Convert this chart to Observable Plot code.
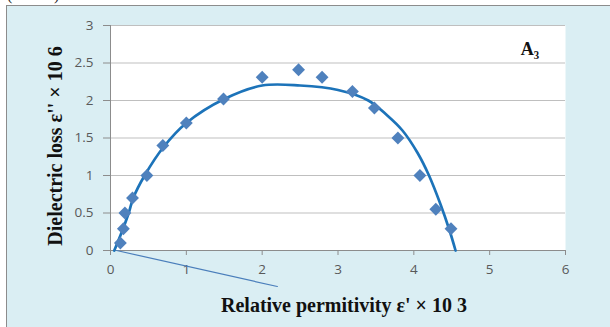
<!DOCTYPE html>
<html><head><meta charset="utf-8">
<script src="https://cdn.jsdelivr.net/npm/d3@7"></script>
<script src="https://cdn.jsdelivr.net/npm/@observablehq/plot@0.6"></script>
<style>
body{margin:0;background:#ffffff;}
#wrap{position:relative;width:610px;height:327px;overflow:hidden;}
#panel{position:absolute;left:6px;top:5px;width:700px;height:400px;background:#daeef3;border:1.5px solid #8c8c8c;}
.tag{position:absolute;top:-14px;font:16px "Liberation Serif";color:#222;}
#chart{position:absolute;left:0;top:0;}
</style></head><body>
<div id="wrap"><div id="panel"></div><span class="tag" style="left:7px">(</span><span class="tag" style="left:54px">)</span><div id="chart"></div></div>
<script>
// measured points
const permX = [0.13, 0.17, 0.19, 0.29, 0.48, 0.69, 1.0, 1.49, 2.0, 2.48, 2.79, 3.19, 3.48, 3.79, 4.08, 4.29, 4.49];
const lossY = [0.1, 0.29, 0.5, 0.7, 1.0, 1.4, 1.7, 2.02, 2.31, 2.41, 2.31, 2.12, 1.9, 1.5, 1.0, 0.55, 0.29];
// fitted curve
const fitX = [0.05, 0.15, 0.24, 0.3, 0.45, 0.7, 1.0, 1.5, 2.0, 2.5, 3.0, 3.4, 3.65, 3.85, 4.05, 4.2, 4.35, 4.47, 4.55];
const fitY = [0, 0.25, 0.5, 0.7, 1.0, 1.38, 1.7, 2.02, 2.2, 2.2, 2.14, 2.0, 1.8, 1.6, 1.3, 1.0, 0.62, 0.27, 0];
// guide line from origin
const guideX = [0.08, 2.2];
const guideY = [0, -0.48];
// ticks and labels
const xTicks = [0, 1, 2, 3, 4, 5, 6];
const yTicks = [0, 0.5, 1, 1.5, 2, 2.5, 3];
const xLabel = "Relative permitivity ε' × 10 3";
const yLabel = "Dielectric loss ε'' × 10 6";
const tagX = [5.53];
const tagY = [2.69];
const tagText = ["A₃"];

const pts = permX.map((x, i) => ({x, y: lossY[i]}));
const fit = fitX.map((x, i) => ({x, y: fitY[i]}));
const guide = guideX.map((x, i) => ({x, y: guideY[i]}));
const tags = tagX.map((x, i) => ({x, y: tagY[i], t: tagText[i]}));

const chart = Plot.plot({
  width: 610, height: 327,
  marginLeft: 110, marginRight: 45, marginTop: 25, marginBottom: 77,
  style: {background: "transparent", fontFamily: "'Open Sans'", fontSize: "13.5px", color: "#595959", overflow: "visible"},
  x: {domain: [0, 6]},
  y: {domain: [0, 3]},
  marks: [
    Plot.frame({fill: "white", stroke: null}),
    Plot.gridY(yTicks, {stroke: "#bfbfbf", strokeOpacity: 1}),
    Plot.axisY(yTicks, {tickSize: 7, tickPadding: 10, stroke: "#8c8c8c", tickFormat: d => String(d), label: null, fill: "#595959"}),
    Plot.axisX(xTicks, {tickSize: 5, tickPadding: 9, stroke: "#8c8c8c", tickFormat: d => String(d), label: null, fill: "#595959"}),
    Plot.ruleY([0], {stroke: "#8c8c8c"}),
    Plot.ruleX([0], {stroke: "#8c8c8c"}),
    Plot.line(guide, {x: "x", y: "y", stroke: "#4a7ebb", strokeWidth: 1.2}),
    Plot.line(fit, {x: "x", y: "y", stroke: "#1c73b9", strokeWidth: 2.7, curve: "catmull-rom"}),
    Plot.dot(pts, {x: "x", y: "y", symbol: "diamond2", r: 5.8, fill: "#4f81bd", stroke: null}),
    Plot.text(tags, {x: "x", y: "y", text: "t", fontFamily: "'Liberation Serif'", fontWeight: "bold", fontSize: 18, fill: "#111"}),
    Plot.text([yLabel], {frameAnchor: "left", textAnchor: "middle", lineAnchor: "middle", dx: -55, dy: 8, rotate: -90, fontFamily: "'Liberation Serif'", fontWeight: "bold", fontSize: 20, fill: "#111"}),
    Plot.text([xLabel], {frameAnchor: "bottom", textAnchor: "middle", lineAnchor: "middle", dx: 6, dy: 55, fontFamily: "'Liberation Serif'", fontWeight: "bold", fontSize: 20, fill: "#111"})
  ]
});
document.getElementById("chart").appendChild(chart);
</script>
</body></html>
